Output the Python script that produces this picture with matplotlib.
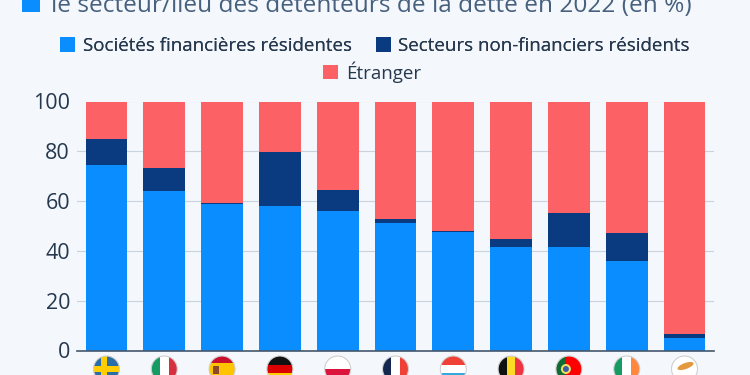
import matplotlib
matplotlib.use('agg')

import matplotlib.pyplot as plt
from matplotlib.patches import Circle, Ellipse, Rectangle

plt.rcParams['font.family'] = ['Open Sans', 'DejaVu Sans']

BG = '#f4f8fc'
BLUE = '#0a8dff'
NAVY = '#0a3a80'
RED = '#fc6165'
TEXT = '#26384e'
TITLE = '#47607e'

countries = ['Suède', 'Italie', 'Espagne', 'Allemagne', 'Pologne', 'France',
             'Luxembourg', 'Belgique', 'Portugal', 'Irlande', 'Chypre']
financial = [74.6, 63.9, 59.0, 58.0, 56.0, 51.4, 47.6, 41.6, 41.6, 36.0, 5.0]
non_financial = [10.4, 9.3, 0.4, 21.8, 8.4, 1.5, 0.5, 3.1, 13.8, 11.0, 1.8]
foreign = [15.0, 26.8, 40.6, 20.2, 35.6, 47.1, 51.9, 55.3, 44.6, 53.0, 93.2]
yticks = [0, 20, 40, 60, 80, 100]

# stripes of each flag, top to bottom or left to right
flags = {
    'Suède': ('h', ['#2a6ea8']),
    'Italie': ('v', ['#169b62', '#ffffff', '#d62f3f']),
    'Espagne': ('h', ['#c8102e', '#ffc400', '#ffc400', '#c8102e']),
    'Allemagne': ('h', ['#111111', '#dd0000', '#ffce00']),
    'Pologne': ('h', ['#ffffff', '#dc143c']),
    'France': ('v', ['#14284f', '#ffffff', '#ef4135']),
    'Luxembourg': ('h', ['#ef4135', '#ffffff', '#35a8e0']),
    'Belgique': ('v', ['#111111', '#fdda24', '#ef3340']),
    'Portugal': ('v', ['#0f6b32', '#0f6b32', '#ff0000', '#ff0000', '#ff0000']),
    'Irlande': ('v', ['#169b62', '#ffffff', '#ff883e']),
    'Chypre': ('v', ['#ffffff']),
}

fig = plt.figure(figsize=(7.5, 3.75), dpi=100, facecolor=BG)
ax = fig.add_axes([77 / 750, 1 - 350.5 / 375, (714 - 77) / 750, 249 / 375])
ax.set_facecolor(BG)

xs = list(range(len(countries)))
bottom2 = [a + b for a, b in zip(financial, non_financial)]
ax.bar(xs, financial, width=0.72, color=BLUE, label='Sociétés financières résidentes')
ax.bar(xs, non_financial, width=0.72, bottom=financial, color=NAVY,
       label='Secteurs non-financiers résidents')
ax.bar(xs, foreign, width=0.72, bottom=bottom2, color=RED, label='Étranger')

ax.set_xlim(-0.51, 10.51)
ax.set_ylim(0, 100)
ax.set_yticks(yticks)
ax.set_xticks([])
ax.grid(axis='y', color='#c9d3de', linewidth=0.8)
ax.set_axisbelow(True)
ax.tick_params(axis='y', length=0, labelsize=15.5, labelcolor=TEXT, pad=5)
for side in ['top', 'right', 'left']:
    ax.spines[side].set_visible(False)
ax.spines['bottom'].set_color('#45566b')
ax.spines['bottom'].set_linewidth(1.2)


def add_clipped(patch, clip, zorder):
    patch.set(transform=None, edgecolor='none', zorder=zorder)
    fig.add_artist(patch)
    patch.set_clip_path(clip)


# flags under the axis, placed in pixels below the baseline
fig_h = fig.get_size_inches()[1] * fig.dpi
r = 13
y0 = fig_h - 369
for x, name in zip(xs, countries):
    px = ax.transData.transform((x, 0))[0]
    clip = Circle((px, y0), r, transform=None, facecolor='white', edgecolor='none', zorder=3)
    fig.add_artist(clip)
    kind, colors = flags[name]
    n = len(colors)
    for i, c in enumerate(colors):
        if kind == 'h':
            rect = Rectangle((px - r, y0 + r - (i + 1) * 2 * r / n), 2 * r, 2 * r / n, facecolor=c)
        else:
            rect = Rectangle((px - r + i * 2 * r / n, y0 - r), 2 * r / n, 2 * r, facecolor=c)
        add_clipped(rect, clip, 4)
    if name == 'Suède':
        add_clipped(Rectangle((px - 5, y0 - r), 6, 2 * r, facecolor='#ffcd00'), clip, 5)
        add_clipped(Rectangle((px - r, y0 - 3), 2 * r, 6, facecolor='#ffcd00'), clip, 5)
    if name == 'Espagne':
        add_clipped(Rectangle((px - 9, y0 - 5), 6, 8, facecolor='#8c4a2a'), clip, 5)
    if name == 'Portugal':
        add_clipped(Circle((px - 3, y0), 5, facecolor='#f0e060'), clip, 5)
        add_clipped(Circle((px - 3, y0), 3, facecolor='#3a5fa8'), clip, 6)
    if name == 'Chypre':
        add_clipped(Ellipse((px + 1, y0 + 3), 17, 6, angle=20, facecolor='#e39a3e'), clip, 5)
    fig.add_artist(Circle((px, y0), r, transform=None, facecolor='none',
                          edgecolor='#cfcfcf', linewidth=0.8, zorder=7))

# title, cut by the top of the picture as in the source
fig.add_artist(Rectangle((22 / 750, 1 - 11.5 / 375), 18 / 750, 18 / 375,
                         transform=fig.transFigure, facecolor=BLUE, edgecolor='none'))
fig.text(51 / 750, 1 - 12 / 375, 'le secteur/lieu des détenteurs de la dette en 2022 (en %)',
         fontsize=17.55, color=TITLE, va='baseline', ha='left')

handles, labels = ax.get_legend_handles_labels()
leg = fig.legend(handles[:2], labels[:2], loc='center', bbox_to_anchor=(375 / 750, 1 - 46 / 375),
                 ncol=2, frameon=False, fontsize=13.5, labelcolor=TEXT, handlelength=0.78,
                 handleheight=0.78, handletextpad=0.42, columnspacing=1.3, borderpad=0)
fig.add_artist(leg)
fig.legend(handles[2:], labels[2:], loc='center', bbox_to_anchor=(372 / 750, 1 - 72 / 375),
           frameon=False, fontsize=13.5, labelcolor=TEXT, handlelength=0.78,
           handleheight=0.78, handletextpad=0.42, borderpad=0)

fig.savefig('out.png', dpi=100, facecolor=BG)
